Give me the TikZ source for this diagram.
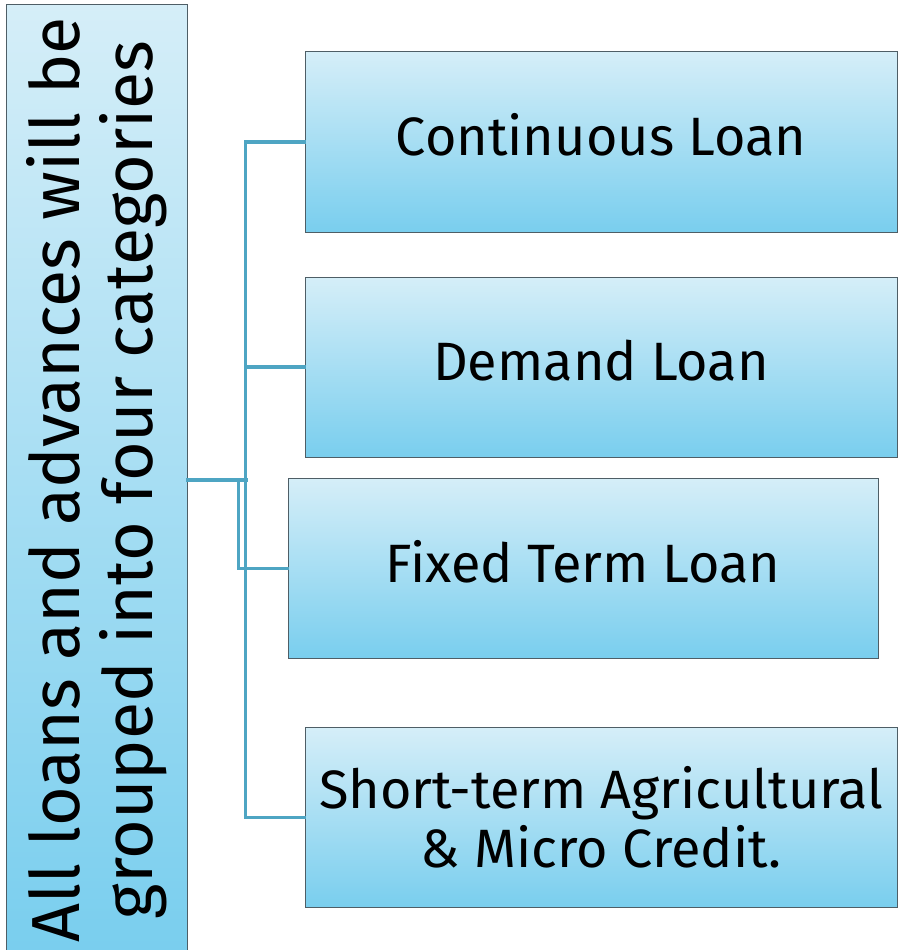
\documentclass[tikz,border=0pt]{standalone}
\usepackage{fontspec}
\setmainfont{Fira Sans}
\begin{document}
\begin{tikzpicture}[x=1pt,y=-1pt,
  boxfill/.style={top color=boxlight, bottom color=boxdark, draw=boxedge, line width=1pt},
  catbox/.style={boxfill, rectangle, minimum width=592pt, minimum height=180pt,
    inner sep=0pt, align=center, font=\fontsize{54}{59}\selectfont},
  oneline/.style={text height=38pt, text depth=11pt},
  link/.style={draw=linkblue, line width=3.5pt, line cap=rect}]
\definecolor{boxlight}{HTML}{D5EEF8}
\definecolor{boxdark}{HTML}{79CEEE}
\definecolor{boxedge}{HTML}{4E5E66}
\definecolor{linkblue}{HTML}{4EA5C3}
\useasboundingbox (0,0) rectangle (900,950);

% vertical title bar on the left
\node[rectangle, rotate=90, top color=boxlight, bottom color=boxdark, draw=boxedge,
  line width=1pt, minimum width=950pt, minimum height=181pt, inner sep=0pt,
  align=center, font=\fontsize{68}{73}\selectfont]
  (main) at (96.5,480) {All loans and advances will be\\grouped into four categories};

% the four categories
\node[catbox, oneline] (b1) at (601,142) {Continuous Loan};
\node[catbox, oneline] (b2) at (601,367) {Demand Loan};
\node[catbox, oneline, minimum width=590pt] (b3) at (583,568.5) {Fixed Term Loan};
\node[catbox] (b4) at (601,817.5) {Short-term Agricultural\\\& Micro Credit.};

% connectors
\draw[link] (main.south) -- ++(59,0);
\draw[link] (b1.west) -- ++(-59,0) |- (b4.west);
\draw[link] (b2.west) -- ++(-59,0);
\draw[link] (main.south) -- ++(51,0) |- (b3.west);
\end{tikzpicture}
\end{document}
